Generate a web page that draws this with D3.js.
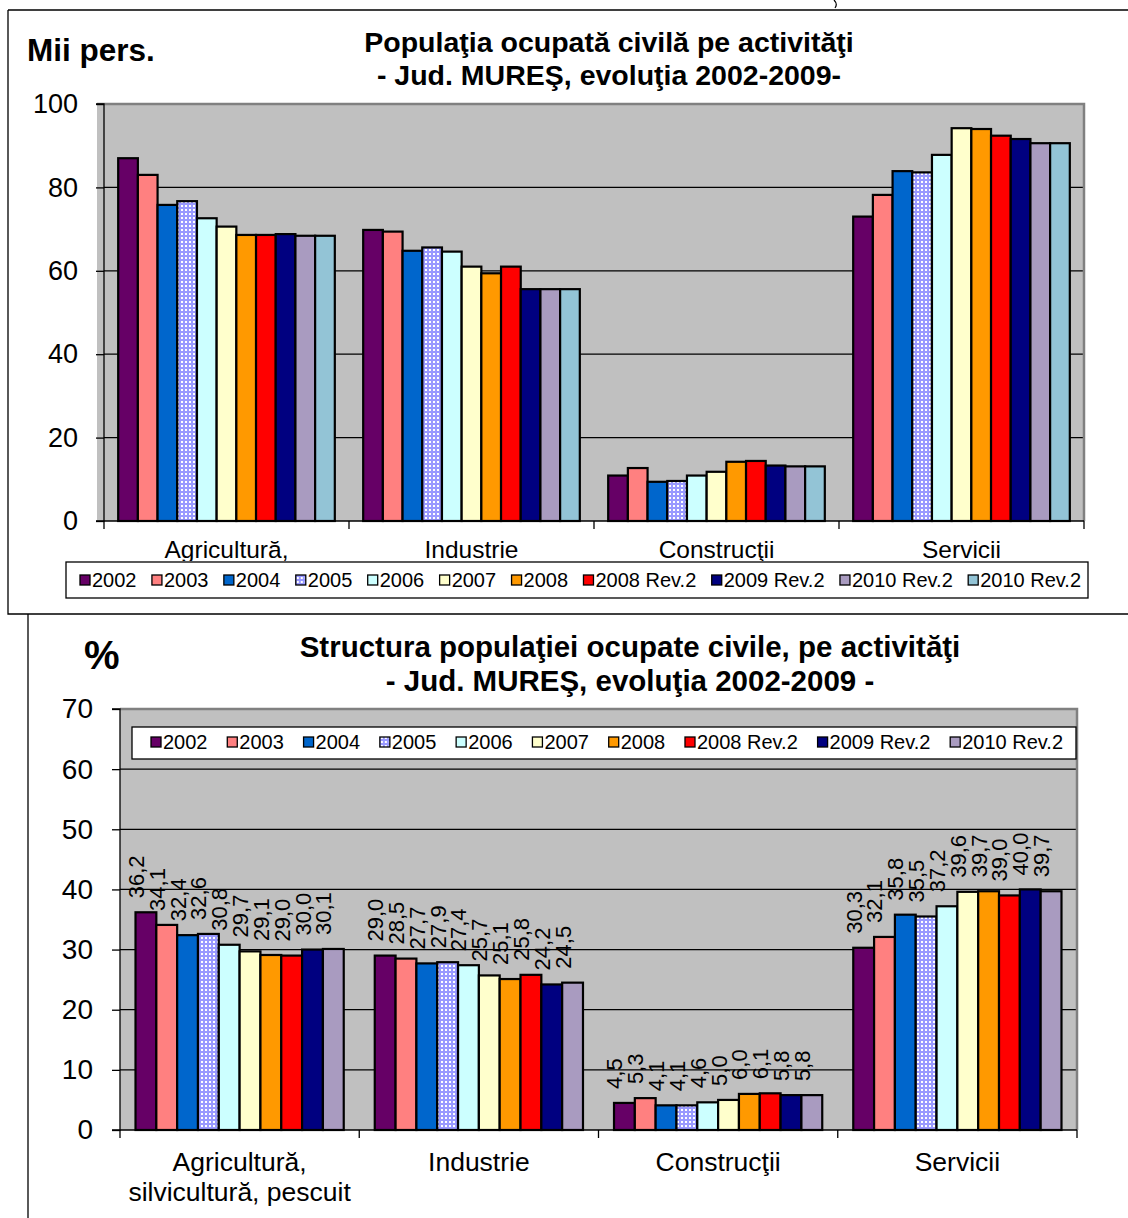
<!DOCTYPE html>
<html><head><meta charset="utf-8">
<script src="https://cdn.jsdelivr.net/npm/d3@7"></script>
<style>
body{margin:0;background:#fff}
svg{display:block;font-family:"Liberation Sans",Arial,sans-serif}
</style>
</head><body>
<svg id="c" width="1128" height="1218"></svg>
<script>
// ---------- DATA ----------
const categories = ["Agricultură,|silvicultură, pescuit", "Industrie", "Construcţii", "Servicii"];
const seriesTop = ["2002","2003","2004","2005","2006","2007","2008","2008 Rev.2","2009 Rev.2","2010 Rev.2","2010 Rev.2"];
const seriesBottom = ["2002","2003","2004","2005","2006","2007","2008","2008 Rev.2","2009 Rev.2","2010 Rev.2"];
// thousand persons (top chart)
const absAgri   = [87.0, 83.0, 75.8, 76.7, 72.6, 70.6, 68.6, 68.6, 68.8, 68.4, 68.4];
const absInd    = [69.8, 69.4, 64.8, 65.6, 64.6, 61.0, 59.4, 61.0, 55.6, 55.6, 55.6];
const absConstr = [10.9, 12.7,  9.4,  9.6, 10.9, 11.8, 14.2, 14.4, 13.3, 13.1, 13.1];
const absServ   = [73.0, 78.2, 83.9, 83.6, 87.8, 94.2, 94.0, 92.4, 91.6, 90.6, 90.6];
// percent structure (bottom chart)
const pctAgri   = [36.2, 34.1, 32.4, 32.6, 30.8, 29.7, 29.1, 29.0, 30.0, 30.1];
const pctInd    = [29.0, 28.5, 27.7, 27.9, 27.4, 25.7, 25.1, 25.8, 24.2, 24.5];
const pctConstr = [ 4.5,  5.3,  4.1,  4.1,  4.6,  5.0,  6.0,  6.1,  5.8,  5.8];
const pctServ   = [30.3, 32.1, 35.8, 35.5, 37.2, 39.6, 39.7, 39.0, 40.0, 39.7];
const ticksTop = [0, 20, 40, 60, 80, 100];
const ticksBottom = [0, 10, 20, 30, 40, 50, 60, 70];

// ---------- STYLES ----------
const colors = ["#660066","#FF8080","#0066CC","url(#dots)","#CCFFFF","#FFFFCC","#FF9900","#FF0000","#000080","#A99BC0","#93C4D6"];

const svg = d3.select("#c");
const defs = svg.append("defs");
const pat = defs.append("pattern").attr("id","dots").attr("patternUnits","userSpaceOnUse")
  .attr("width",4).attr("height",4);
pat.append("rect").attr("width",4).attr("height",4).attr("fill","#9999FF");
pat.append("rect").attr("x",1).attr("y",1).attr("width",2).attr("height",2).attr("fill","#FFFFFF");

// outer frames
svg.append("path").attr("d","M8,10 H1130 M8,10 V614 H1130").attr("fill","none").attr("stroke","#000").attr("stroke-width",1.3);
svg.append("path").attr("d","M28,614 V1218").attr("fill","none").attr("stroke","#000").attr("stroke-width",1.3);
svg.append("path").attr("d","M834,0 Q838,4 835,8").attr("fill","none").attr("stroke","#000").attr("stroke-width",1.2);

function drawChart(o) {
  const g = svg.append("g");
  const x0 = d3.scaleBand().domain(categories).range([o.left, o.right]).padding(0);
  const x1 = d3.scaleBand().domain(d3.range(o.series.length)).range([0, x0.bandwidth()])
    .paddingInner(0).paddingOuter(o.outerPad);
  const y = d3.scaleLinear().domain([0, o.max]).range([o.bottom, o.top]);

  // plot area
  g.append("rect").attr("x", o.plotLeft).attr("y", o.top).attr("width", o.right - o.plotLeft).attr("height", o.bottom - o.top)
    .attr("fill", "#C0C0C0");
  // gridlines
  g.append("g").selectAll("line").data(o.ticks.filter(t => t > 0 && t < o.max)).join("line")
    .attr("x1", o.left).attr("x2", o.right).attr("y1", d => y(d)).attr("y2", d => y(d))
    .attr("stroke", "#000").attr("stroke-width", 1.2);
  // plot border (top/right)
  g.append("path").attr("d", `M${o.plotLeft},${o.top} H${o.right} V${o.bottom}`)
    .attr("fill", "none").attr("stroke", "#808080").attr("stroke-width", 2.5);

  // bars
  const data = [];
  categories.forEach((c, ci) => o.values[ci].forEach((v, si) => data.push({c, ci, si, v})));
  g.append("g").selectAll("rect").data(data).join("rect")
    .attr("x", d => x0(d.c) + x1(d.si)).attr("width", x1.bandwidth())
    .attr("y", d => y(d.v)).attr("height", d => y(0) - y(d.v))
    .attr("fill", d => colors[d.si]).attr("stroke", "#000").attr("stroke-width", 2.2);

  // data labels
  if (o.labels) {
    g.append("g").selectAll("text").data(data).join("text")
      .attr("transform", d => `translate(${x0(d.c) + x1(d.si) + x1.bandwidth()/2 - 2},${y(d.v) - 14}) rotate(-90)`)
      .attr("font-size", 22).attr("fill", "#000")
      .text(d => d.v.toFixed(1).replace(".", ","));
  }

  // y axis
  const ya = d3.axisLeft(y).tickValues(o.ticks).tickSize(8).tickPadding(o.tickPad).tickFormat(d3.format("d"));
  const yg = g.append("g").attr("transform", `translate(${o.left},0)`).call(ya);
  yg.select(".domain").attr("stroke", "#000").attr("stroke-width", 1.3).attr("d", `M-8,${o.top}H0V${o.bottom}H-8`);
  yg.selectAll(".tick line").attr("stroke", "#000").attr("stroke-width", 1.3);
  yg.selectAll("text").attr("font-size", o.tickFont).attr("font-family", "Liberation Sans, Arial, sans-serif").attr("fill", "#000");

  // x axis
  const xg = g.append("g");
  xg.append("line").attr("x1", o.left).attr("x2", o.right).attr("y1", o.bottom).attr("y2", o.bottom)
    .attr("stroke", "#000").attr("stroke-width", 1.3);
  const bounds = categories.map(c => x0(c)).concat([o.right]);
  xg.selectAll(".xt").data(bounds).join("line").attr("class","xt")
    .attr("x1", d => d).attr("x2", d => d).attr("y1", o.bottom).attr("y2", o.bottom + 8)
    .attr("stroke", "#000").attr("stroke-width", 1.3);
  if (o.catClip) {
    defs.append("clipPath").attr("id", o.catClip.id).append("rect")
      .attr("x", 0).attr("y", 0).attr("width", 1128).attr("height", o.catClip.maxY);
  }
  const cl = xg.append("g").attr("clip-path", o.catClip ? `url(#${o.catClip.id})` : null)
    .selectAll(".cl").data(categories).join("text").attr("class","cl")
    .attr("x", d => x0(d) + x0.bandwidth()/2).attr("y", o.catY)
    .attr("text-anchor", "middle").attr("font-size", o.catFont).attr("fill", "#000");
  cl.each(function(d) {
    const parts = d.split("|").slice(0, o.catLines);
    d3.select(this).selectAll("tspan").data(parts).join("tspan")
      .attr("x", x0(d) + x0.bandwidth()/2).attr("dy", (p, i) => i === 0 ? 0 : o.catLine).text(p => p);
  });

  // legend
  const lg = g.append("g");
  lg.append("rect").attr("x", o.leg.x).attr("y", o.leg.y).attr("width", o.leg.w).attr("height", o.leg.h)
    .attr("fill", "#fff").attr("stroke", "#000").attr("stroke-width", 1.3);
  const items = lg.selectAll(".li").data(o.series).join("g").attr("class","li");
  const ms = 10;
  items.append("rect").attr("width", ms).attr("height", ms).attr("y", o.leg.cy - ms/2)
    .attr("fill", (d, i) => colors[i]).attr("stroke", "#000").attr("stroke-width", 1.3);
  const txt = items.append("text").attr("x", ms + 2).attr("y", o.leg.cy + 7)
    .attr("font-size", o.leg.font).attr("fill", "#000").text(d => d);
  const widths = [];
  txt.each(function() { widths.push(this.getComputedTextLength()); });
  const total = d3.sum(widths) + o.series.length * (ms + 2);
  const gap = (o.leg.x1 - o.leg.x0 - total) / (o.series.length - 1);
  let cx = o.leg.x0;
  items.attr("transform", (d, i) => { const t = `translate(${cx},0)`; cx += ms + 2 + widths[i] + gap; return t; });

  // titles
  o.titles.forEach(t => {
    g.append("text").attr("x", t.x).attr("y", t.y).attr("text-anchor", t.anchor || "middle")
      .attr("font-size", t.size).attr("font-weight", "bold").attr("fill", "#000").text(t.text);
  });
}

drawChart({
  series: seriesTop, values: [absAgri, absInd, absConstr, absServ], max: 100, ticks: ticksTop,
  left: 104, plotLeft: 97, right: 1084, top: 104, bottom: 521, outerPad: 0.72, labels: false,
  tickFont: 27, tickPad: 18, catFont: 24.5, catY: 558, catLine: 28, catLines: 1,
  catClip: {id: "clipTop", maxY: 561},
  leg: {x: 66, y: 562, w: 1022, h: 36, cy: 580, font: 20, x0: 80, x1: 1081},
  titles: [
    {x: 27, y: 61, size: 31.5, text: "Mii pers.", anchor: "start"},
    {x: 609, y: 52, size: 28.5, text: "Populaţia ocupată civilă pe activităţi"},
    {x: 609, y: 85, size: 28.5, text: "- Jud. MUREŞ, evoluţia 2002-2009-"}
  ]
});

drawChart({
  series: seriesBottom, values: [pctAgri, pctInd, pctConstr, pctServ], max: 70, ticks: ticksBottom,
  left: 120, plotLeft: 120, right: 1077, top: 709, bottom: 1130, outerPad: 0.745, labels: true,
  tickFont: 28, tickPad: 19, catFont: 26.5, catY: 1171, catLine: 30, catLines: 2,
  leg: {x: 132, y: 727, w: 944, h: 32, cy: 742, font: 20, x0: 151, x1: 1063},
  titles: [
    {x: 84, y: 669, size: 40, text: "%", anchor: "start"},
    {x: 630, y: 657, size: 29.5, text: "Structura populaţiei ocupate civile, pe activităţi"},
    {x: 630, y: 691, size: 29.5, text: "- Jud. MUREŞ, evoluţia 2002-2009 -"}
  ]
});
</script>
</body></html>
